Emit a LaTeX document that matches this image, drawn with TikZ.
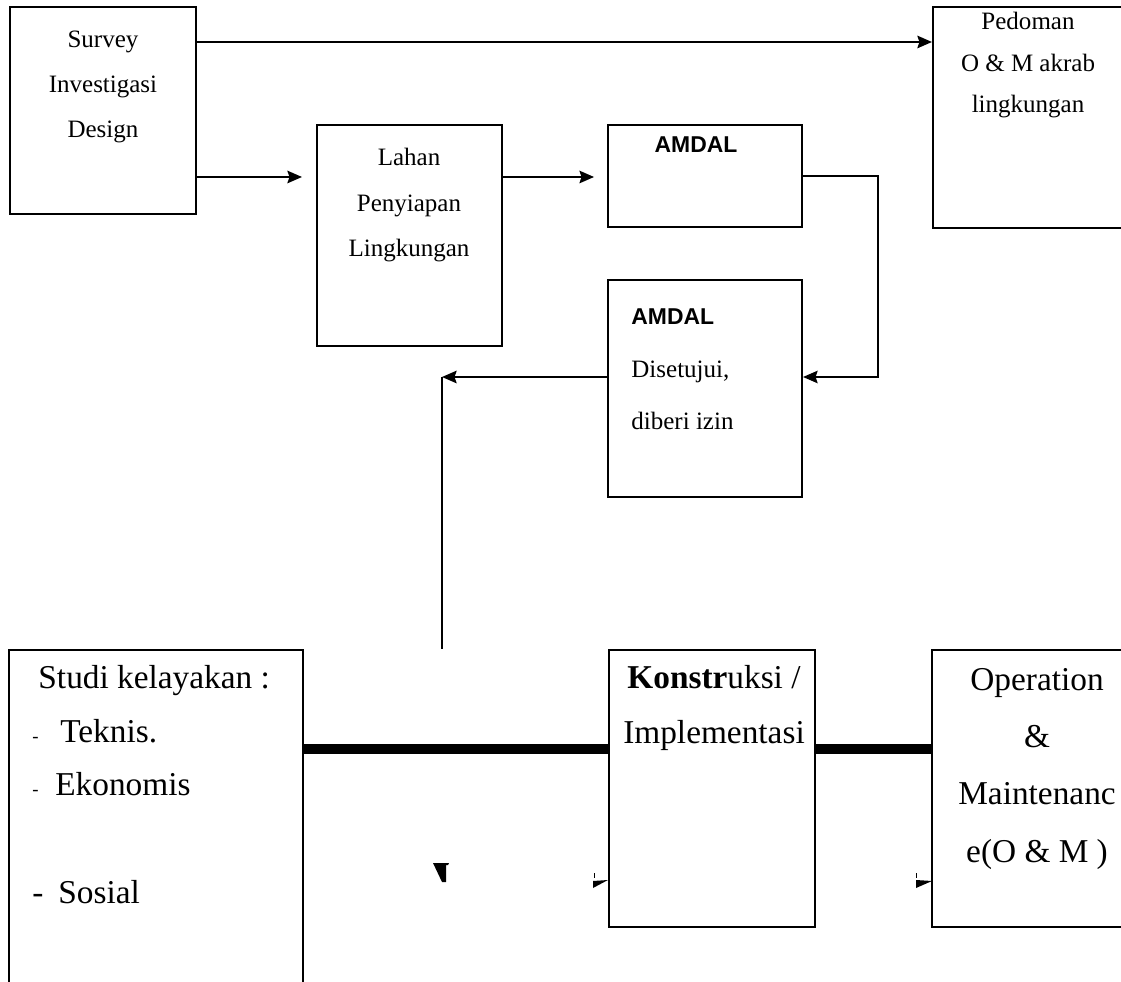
\documentclass[tikz,border=0pt]{standalone}
\usepackage{fontspec}
\setmainfont{Liberation Serif}
\newfontfamily\amdalfont{Liberation Sans}
\usetikzlibrary{arrows.meta,fit,positioning}

\begin{document}
\begin{tikzpicture}[x=.48pt,y=-.48pt,line join=miter,
  >={Stealth[length=7pt,width=6pt,inset=1pt]},
  box/.style={draw,line width=1pt,inner sep=0pt},
  bigbox/.style={draw,line width=1.4pt,inner sep=0pt},
  txt/.style={inner sep=0pt,anchor=base,align=center},
  flow/.style={line width=1pt,->},
  bar/.style={line width=5pt}]
 \useasboundingbox (0,0) rectangle (1121,982);
 % upper row (text nodes sit on the baseline of their last line)
 \node[box,fit={(10,7) (196,214)}] (survey) {};
 \node[box,fit={(317,125) (502,346)}] (lahan) {};
 \node[box,fit={(608,125) (802,227)}] (amdal) {};
 \node[box,fit={(608,280) (802,497)}] (izin) {};
 \node[box,fit={(933,7) (1123,228)}] (pedoman) {};
 \node[txt,font=\fontsize{12}{21.6}\selectfont] (survey-t) at (103,138)
  {Survey\\Investigasi\\Design};
 \node[txt,font=\fontsize{12}{22}\selectfont] (lahan-t) at (409,257)
  {Lahan\\Penyiapan\\Lingkungan};
 \node[txt,font=\fontsize{12}{20}\selectfont] (pedoman-t) at (1028,113)
  {Pedoman\\O \& M akrab\\lingkungan};
 \node[txt,font=\fontsize{11}{11}\amdalfont\bfseries] (amdal-t) at (696,153) {AMDAL};
 \node[txt,anchor=base west,align=left,font=\fontsize{12}{25.4}\selectfont]
  (izin-t) at (631,430)
  {{\fontsize{11}{11}\amdalfont\bfseries AMDAL}\\Disetujui,\\diberi izin};
 % lower row
 \node[bigbox,fit={(9,650) (303,1000)}] (studi) {};
 \node[bigbox,fit={(609,650) (815,927)}] (konstruksi) {};
 \node[bigbox,fit={(932,650) (1142,927)}] (om) {};
 \node[txt,anchor=base west,align=left,font=\fontsize{16}{25.7}\selectfont]
  (studi-t) at (32,903)
  {\hspace*{2.9pt}Studi kelayakan :\\
   \makebox[13.4pt][l]{\fontsize{9}{9}\selectfont -}Teknis.\\
   \makebox[11pt][l]{\fontsize{9}{9}\selectfont -}Ekonomis\\[25.7pt]
   \makebox[12.5pt][l]{-}Sosial};
 \node[txt,font=\fontsize{16}{26}\selectfont] (konstruksi-t) at (714,743)
  {\textbf{Konstr}uksi /\\Implementasi};
 \node[txt,font=\fontsize{16}{27.4}\selectfont] (om-t) at (1037,862)
  {Operation\\\&\\Maintenanc\\e(O \& M )};
 % connectors
 \coordinate (turn) at (442,377);
 \draw[flow] (survey.east |- 0,42) -- (pedoman.west |- 0,42);
 \draw[flow,shorten >=6.7pt] (survey.east |- 0,177) -- (lahan.west |- 0,177);
 \draw[flow,shorten >=6.2pt] (lahan.east |- 0,177) -- (amdal.west |- 0,177);
 \draw[flow,line width=.8pt] (amdal.east) -| (878,377) -- (izin.east |- turn);
 \draw[flow] (izin.west |- turn) -- (turn);
 \draw[line width=1pt] (turn) -- (turn |- studi.north);
 \draw[bar] (studi.east |- 0,749) -- (konstruksi.west |- 0,749);
 \draw[bar] (konstruksi.east |- 0,749) -- (om.west |- 0,749);
 % stray arrow tips
 \fill (433,863) -- (449,863) -- (448,865) -- (446,865) -- (446,882)
  -- (442,882) -- cycle;
 \fill (593,881) -- (608,880) -- (593,888) -- cycle;
 \fill (594,873) rectangle (595,878);
 \fill (916,880) -- (932,881) -- (916,888) -- cycle;
 \fill (916,873) rectangle (917,878);
\end{tikzpicture}
\end{document}
